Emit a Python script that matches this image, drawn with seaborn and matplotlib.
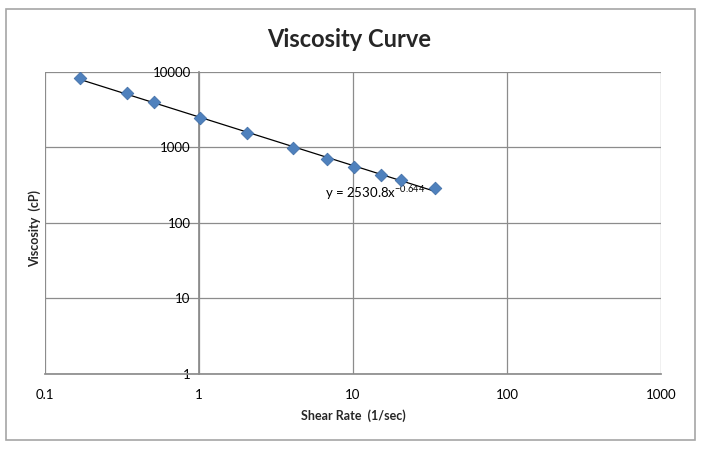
import numpy as np
import pandas as pd
import matplotlib
matplotlib.use("Agg")
import matplotlib.pyplot as plt
import seaborn as sns
from matplotlib.patches import Rectangle

# shear rate (1/sec) and viscosity (cP)
shear_rate = [0.17, 0.34, 0.51, 1.02, 2.04, 4.08, 6.8, 10.2, 15.3, 20.4, 34.0]
viscosity = [8250, 5200, 3950, 2470, 1550, 975, 710, 555, 435, 370, 288]
x_ticks = [0.1, 1, 10, 100, 1000]
y_ticks = [1, 10, 100, 1000, 10000]
fit_label = "y = 2530.8x$^{-0.644}$"

df = pd.DataFrame({"Shear Rate": shear_rate, "Viscosity": viscosity})

sns.set_theme(style="white")
plt.rcParams["font.family"] = ["Lato", "DejaVu Sans"]
plt.rcParams["mathtext.default"] = "regular"

fig = plt.figure(figsize=(7.03, 4.5), dpi=100)
ax = fig.add_axes([0.064, 0.169, 0.876, 0.671])

# outer chart border
fig.patches.append(Rectangle((0.009, 0.022), 0.98, 0.958, transform=fig.transFigure,
                             fill=False, edgecolor="#a6a6a6", linewidth=1.2))

ax.set_xscale("log")
ax.set_yscale("log")
ax.set_xlim(0.1, 1000)
ax.set_ylim(1, 10000)

# power trendline fitted in log space
b, a = np.polyfit(np.log10(df["Shear Rate"]), np.log10(df["Viscosity"]), 1)
xs = np.logspace(np.log10(min(shear_rate)), np.log10(max(shear_rate)), 50)
ax.plot(xs, 10 ** a * xs ** b, color="black", linewidth=0.9, zorder=3)

sns.scatterplot(data=df, x="Shear Rate", y="Viscosity", ax=ax, marker="D", s=42,
                color="#4f81bd", edgecolor="#3d6aa3", linewidth=0.5, zorder=4)

ax.text(6.6, 250, fit_label, fontsize=9.5, ha="left", va="center", color="black")

ax.grid(True, which="major", color="#8c8c8c", linewidth=0.9)
ax.minorticks_off()
ax.set_xticks(x_ticks)
ax.set_xticklabels([str(t) for t in x_ticks])
ax.set_yticks(y_ticks)
ax.set_yticklabels([str(t) for t in y_ticks])

for s in ["top", "right", "left"]:
    ax.spines[s].set_visible(False)
ax.spines["left"].set_visible(True)
ax.spines["left"].set_position(("data", 1))
ax.spines["left"].set_color("#8c8c8c")
ax.spines["bottom"].set_color("#8c8c8c")
ax.tick_params(axis="both", which="major", length=4, width=0.9, color="#8c8c8c",
               labelsize=9.5, labelcolor="black", direction="out")
ax.tick_params(axis="x", pad=7)
ax.tick_params(axis="y", pad=2)

ax.set_xlabel("Shear Rate  (1/sec)", fontsize=9, fontweight="bold", labelpad=6)
ax.set_ylabel("")
fig.text(0.05, 0.493, "Viscosity  (cP)", rotation=90, fontsize=9, fontweight="bold",
         ha="center", va="center")
fig.text(0.497, 0.913, "Viscosity Curve", fontsize=17, fontweight="bold",
         ha="center", va="center")

fig.savefig("out.png", dpi=100)
